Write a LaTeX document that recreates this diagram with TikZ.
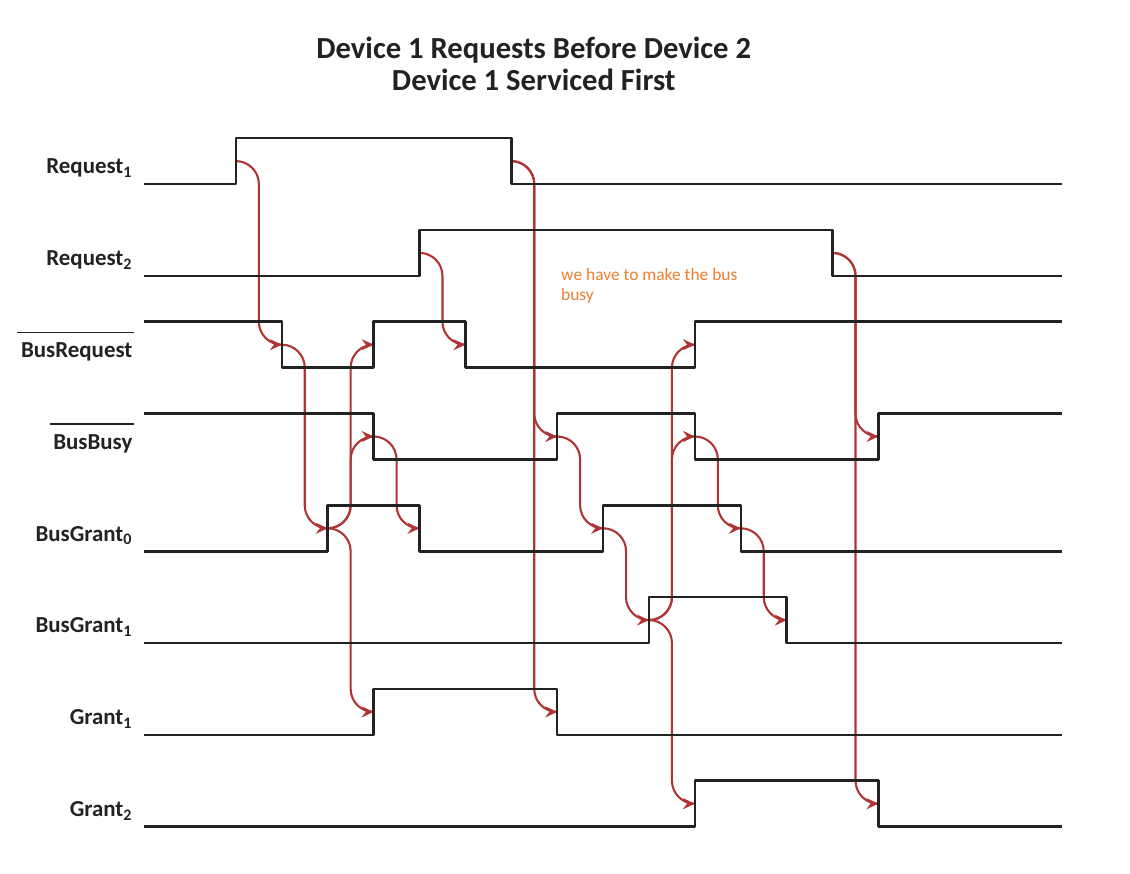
\documentclass[tikz,border=0pt]{standalone}
\usepackage{fontspec}
\setmainfont{Carlito}
\usetikzlibrary{arrows.meta}
\definecolor{causered}{RGB}{175,52,52}
\definecolor{noteorange}{RGB}{237,125,49}
\definecolor{wavegray}{RGB}{34,34,34}

\begin{document}
\begin{tikzpicture}[
      wave/.style={draw=wavegray, line width=1.6pt, line join=round},
      cause/.style={draw=causered, line width=1.3pt, rounded corners=0.5cm,
                    -{Stealth[length=2.6mm, width=2.4mm, inset=0.9mm]}},
      sig/.style={anchor=base east, inner sep=0pt, text=wavegray,
                  font=\fontsize{14.2}{17}\selectfont\bfseries},
      ttl/.style={anchor=base, inner sep=0pt, text=wavegray,
                  font=\fontsize{19}{21}\selectfont\bfseries},
      bar/.style={draw=wavegray, line width=0.8pt},
    ]
    \useasboundingbox (-5.14,-15.03) rectangle (19.48,4.01);

    % title
    \node[ttl] (ttl1) at (6.49, 2.745) {Device 1 Requests Before Device 2};
    \node[ttl] (ttl2) at (6.49, 2.03)  {Device 1 Serviced First};

    % signal names
    \node[sig] (lr1)  at (-2.25,  0.22) {Request\textsubscript{1}};
    \node[sig] (lr2)  at (-2.25, -1.78) {Request\textsubscript{2}};
    \node[sig] (lbr)  at (-2.25, -3.78) {BusRequest};
    \node[sig] (lbb)  at (-2.25, -5.78) {BusBusy};
    \node[sig] (lbg0) at (-2.25, -7.78) {BusGrant\textsubscript{0}};
    \node[sig] (lbg1) at (-2.25, -9.78) {BusGrant\textsubscript{1}};
    \node[sig] (lg1)  at (-2.25,-11.78) {Grant\textsubscript{1}};
    \node[sig] (lg2)  at (-2.25,-13.78) {Grant\textsubscript{2}};
    \draw[bar] ([xshift=-2pt,yshift=0.22cm]lbr.north west) -- ([xshift=1pt,yshift=0.22cm]lbr.north east);
    \draw[bar] ([xshift=-2pt,yshift=0.22cm]lbb.north west) -- ([xshift=1pt,yshift=0.22cm]lbb.north east);

    % note
    \node[anchor=base west, align=left, inner sep=0pt, text=noteorange,
          font=\fontsize{10.8}{12.4}\selectfont] (note) at (7.08,-2.54)
          {we have to make the bus\\busy};

    % edge midpoints
    \coordinate (r1a)  at (0,  0.5);  \coordinate (r1b)  at (6,  0.5);
    \coordinate (r2a)  at (4, -1.5);  \coordinate (r2b)  at (13,-1.5);
    \coordinate (bra)  at (1, -3.5);  \coordinate (brb)  at (3, -3.5);
    \coordinate (brc)  at (5, -3.5);  \coordinate (brd)  at (10,-3.5);
    \coordinate (bba)  at (3, -5.5);  \coordinate (bbb)  at (7, -5.5);
    \coordinate (bbc)  at (10,-5.5);  \coordinate (bbd)  at (14,-5.5);
    \coordinate (bg0a) at (2, -7.5);  \coordinate (bg0b) at (4, -7.5);
    \coordinate (bg0c) at (8, -7.5);  \coordinate (bg0d) at (11,-7.5);
    \coordinate (bg1a) at (9, -9.5);  \coordinate (bg1b) at (12,-9.5);
    \coordinate (g1a)  at (3,-11.5);  \coordinate (g1b)  at (7,-11.5);
    \coordinate (g2a)  at (10,-13.5); \coordinate (g2b)  at (14,-13.5);

    % cause -> effect
    \draw[cause] (r1a)  -- ++(0.5,0) |- (bra);
    \draw[cause] (bra)  -- ++(0.5,0) |- (bg0a);
    \draw[cause] (bg0a) -- ++(0.5,0) |- (brb);
    \draw[cause] (bg0a) -- ++(0.5,0) |- (bba);
    \draw[cause] (bg0a) -- ++(0.5,0) |- (g1a);
    \draw[cause] (bba)  -- ++(0.5,0) |- (bg0b);
    \draw[cause] (r2a)  -- ++(0.5,0) |- (brc);
    \draw[cause] (r1b)  -- ++(0.5,0) |- (bbb);
    \draw[cause] (r1b)  -- ++(0.5,0) |- (g1b);
    \draw[cause] (bbb)  -- ++(0.5,0) |- (bg0c);
    \draw[cause] (bg0c) -- ++(0.5,0) |- (bg1a);
    \draw[cause] (bg1a) -- ++(0.5,0) |- (brd);
    \draw[cause] (bg1a) -- ++(0.5,0) |- (bbc);
    \draw[cause] (bg1a) -- ++(0.5,0) |- (g2a);
    \draw[cause] (bbc)  -- ++(0.5,0) |- (bg0d);
    \draw[cause] (bg0d) -- ++(0.5,0) |- (bg1b);
    \draw[cause] (r2b)  -- ++(0.5,0) |- (bbd);
    \draw[cause] (r2b)  -- ++(0.5,0) |- (g2b);

    % waveforms
    \draw[wave] (-2,  0) -| (0,  1) -| (6,  0) -- (18,  0);
    \draw[wave] (-2, -2) -| (4, -1) -| (13,-2) -- (18, -2);
    \draw[wave] (-2, -3) -| (1, -4) -| (3, -3) -| (5, -4) -| (10,-3) -- (18, -3);
    \draw[wave] (-2, -5) -| (3, -6) -| (7, -5) -| (10,-6) -| (14,-5) -- (18, -5);
    \draw[wave] (-2, -8) -| (2, -7) -| (4, -8) -| (8, -7) -| (11,-8) -- (18, -8);
    \draw[wave] (-2,-10) -| (9, -9) -| (12,-10) -- (18,-10);
    \draw[wave] (-2,-12) -| (3,-11) -| (7,-12) -- (18,-12);
    \draw[wave] (-2,-14) -| (10,-13) -| (14,-14) -- (18,-14);
  \end{tikzpicture}
\end{document}
